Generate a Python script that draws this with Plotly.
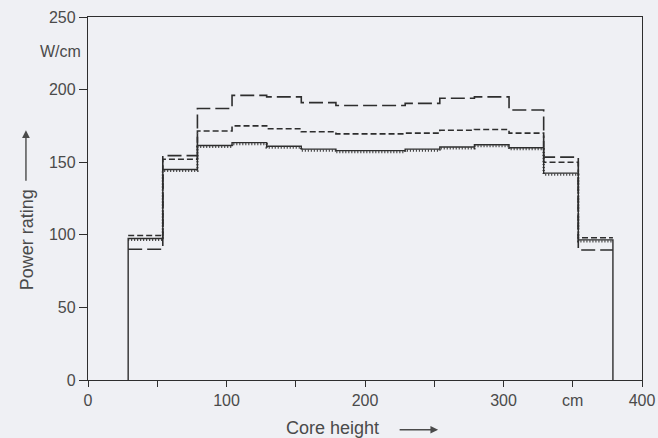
import plotly.graph_objects as go

# Segment boundaries along the core height (cm)
core_edges_cm = [29, 54, 79, 104, 129, 154, 179, 204, 229, 254, 279, 304, 329, 354, 379]

# Power rating per segment (W/cm)
long_dash = [90, 154.5, 187, 196, 195, 191, 189, 189, 190.5, 194, 195, 186, 153.5, 89.5]
short_dash = [99.5, 152, 171.5, 175, 173, 171, 169.5, 169.5, 170, 172, 172.5, 170, 150, 98]
solid = [97.5, 145, 161.5, 163.5, 161, 159, 158, 158, 159, 160.5, 162, 160, 142.5, 96.5]
dotted = [96.5, 144, 160.5, 162.5, 160, 158, 157, 157, 158, 159.5, 161, 159, 141.5, 95.5]

y_ticks = [0, 50, 100, 150, 200, 250]
x_ticks = [0, 50, 100, 150, 200, 250, 300, 350, 400]
x_tick_text = ["0", "", "100", "", "200", "", "300", "cm", "400"]

LINE = "#2e2e2e"
TEXT = "#4a4a4a"
BG = "#eff0f4"
FONT = "Liberation Sans, Arial, sans-serif"

fig = go.Figure()

def step_trace(vals, dash, width, with_base=False):
    xs = list(core_edges_cm)
    ys = list(vals) + [vals[-1]]
    if with_base:
        xs = [core_edges_cm[0]] + xs + [core_edges_cm[-1]]
        ys = [0] + ys + [0]
    return go.Scatter(x=xs, y=ys, mode="lines", line_shape="hv",
                      line=dict(color=LINE, width=width, dash=dash),
                      showlegend=False, hoverinfo="skip")

fig.add_trace(step_trace(long_dash, "14px,5px", 1.6))
fig.add_trace(step_trace(short_dash, "6px,3px", 1.6))
fig.add_trace(step_trace(dotted, "1px,2px", 2.2))
fig.add_trace(step_trace(solid, "solid", 1.4, with_base=True))

fig.update_layout(
    width=658, height=438,
    margin=dict(l=88, r=16, t=17, b=58),
    paper_bgcolor=BG, plot_bgcolor=BG,
    font=dict(family=FONT, size=16, color=TEXT),
    xaxis=dict(range=[0, 400], tickvals=x_ticks, ticktext=x_tick_text,
               ticks="outside", ticklen=6, tickwidth=1.2, tickcolor=LINE,
               showline=True, linecolor=LINE, linewidth=1.4, mirror=True,
               showgrid=False, zeroline=False, fixedrange=True, automargin=False),
    yaxis=dict(range=[0, 250], tickvals=y_ticks,
               ticks="outside", ticklen=8, tickwidth=1.2, tickcolor=LINE,
               showline=True, linecolor=LINE, linewidth=1.4, mirror=True,
               showgrid=False, zeroline=False, fixedrange=True, automargin=False),
)

# Unit label on y axis
fig.add_annotation(text="W/cm", xref="paper", yref="paper", x=0, y=0.9036,
                   xanchor="right", yanchor="middle", xshift=-5,
                   showarrow=False, font=dict(size=16, color=TEXT))

# Y-axis title with arrow
fig.add_annotation(text="Power rating", xref="paper", yref="paper",
                   x=-0.11, y=0.385, textangle=-90, showarrow=False,
                   xanchor="center", yanchor="middle",
                   font=dict(size=18, color=TEXT))
fig.add_annotation(text="", xref="paper", yref="paper", x=-0.112, y=0.688,
                   ax=0, ay=52, axref="pixel", ayref="pixel",
                   showarrow=True, arrowhead=2, arrowsize=1.1, arrowwidth=1.4,
                   arrowcolor=TEXT)

# X-axis title with arrow
fig.add_annotation(text="Core height", xref="paper", yref="paper",
                   x=0.4407, y=-0.132, showarrow=False,
                   xanchor="center", yanchor="middle",
                   font=dict(size=18, color=TEXT))
fig.add_annotation(text="", xref="paper", yref="paper", x=0.632, y=-0.137,
                   ax=-40, ay=0, axref="pixel", ayref="pixel",
                   showarrow=True, arrowhead=2, arrowsize=1.1, arrowwidth=1.4,
                   arrowcolor=TEXT)

fig.write_html("out.html")
